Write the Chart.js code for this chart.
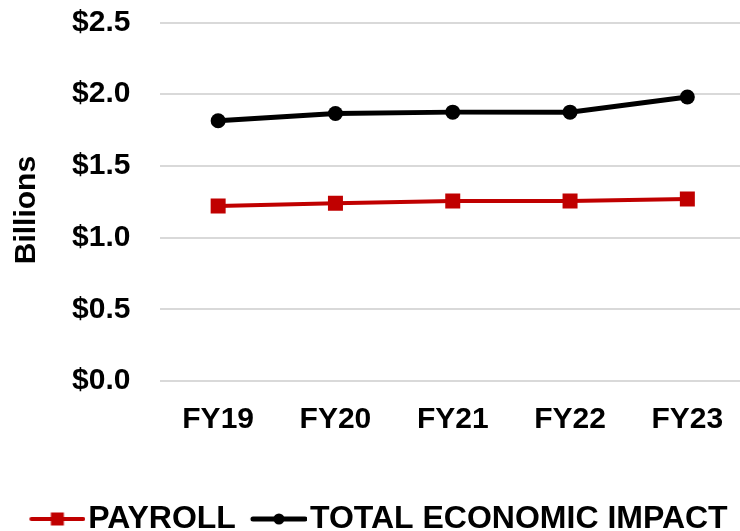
<!DOCTYPE html>
<html>
<head>
<meta charset="utf-8">
<script src="https://cdn.jsdelivr.net/npm/chart.js@4.4.0/dist/chart.umd.min.js"></script>
<style>
html, body { margin: 0; padding: 0; background: #fff; overflow: hidden; }
#wrap { position: absolute; left: 0; top: 0; width: 746px; height: 545px; }
</style>
</head>
<body>
<div id="wrap"><canvas id="mycanvas" width="746" height="545"></canvas></div>
<script>
var lata = ["FY19", "FY20", "FY21", "FY22", "FY23"];
var payroll = [1.22, 1.24, 1.255, 1.255, 1.27];
var totalImpact = [1.815, 1.865, 1.875, 1.875, 1.98];
var osY = [0, 0.5, 1.0, 1.5, 2.0, 2.5];

var czcionka = "'Liberation Sans', Arial, sans-serif";

// ikonka legendy: linia + znacznik
function ikonka(kolor, grubosc, ksztalt, rozmiar)
{
	var c = document.createElement("canvas");
	c.width = 74;
	c.height = 22;
	var g = c.getContext("2d");
	g.strokeStyle = kolor;
	g.fillStyle = kolor;
	g.lineWidth = grubosc;
	g.lineCap = "round";
	g.beginPath();
	g.moveTo(20, 11);
	g.lineTo(72, 11);
	g.stroke();
	var sx = 46;
	if (ksztalt == "rect") {
		g.fillRect(sx - rozmiar / 2, 11 - rozmiar / 2, rozmiar, rozmiar);
	} else {
		g.beginPath();
		g.arc(sx, 11, rozmiar / 2, 0, Math.PI * 2);
		g.fill();
	}
	return c;
}

var ikony = [ikonka("#c00000", 4, "rect", 13), ikonka("#000000", 5, "circle", 11)];

var chartdata = {
	labels: lata,
	datasets: [
		{
			label: "PAYROLL",
			borderColor: "#c00000",
			backgroundColor: "#c00000",
			borderWidth: 4,
			fill: false,
			pointStyle: "rect",
			pointRadius: 10.6,
			pointBorderWidth: 0,
			pointBackgroundColor: "#c00000",
			data: payroll
		},
		{
			label: "TOTAL ECONOMIC IMPACT",
			borderColor: "#000000",
			backgroundColor: "#000000",
			borderWidth: 5,
			fill: false,
			pointStyle: "circle",
			pointRadius: 7.5,
			pointBorderWidth: 0,
			pointBackgroundColor: "#000000",
			data: totalImpact
		}
	]
};

var ctx = document.getElementById("mycanvas");

var wykres = new Chart(ctx, {
	type: "line",
	data: chartdata,
	options: {
		responsive: false,
		animation: false,
		layout: { autoPadding: false, padding: { top: 22.5, right: 0, bottom: 0, left: 6 } },
		plugins: {
			tooltip: { enabled: false },
			legend: {
				position: "bottom",
				labels: {
					usePointStyle: true,
					pointStyleWidth: 48,
					padding: 10,
					color: "#000",
					font: { family: czcionka, size: 32, weight: "bold" },
					generateLabels: function(chart) {
						var items = Chart.defaults.plugins.legend.labels.generateLabels(chart);
						items.forEach(function(it, i) { it.pointStyle = ikony[i]; });
						return items;
					}
				}
			}
		},
		scales: {
			x: {
				offset: true,
				grid: { display: false, drawTicks: false },
				border: { display: false },
				ticks: {
					color: "#000",
					padding: 21,
					font: { family: czcionka, size: 30, weight: "bold" }
				},
				afterFit: function(s) { s.height = 112; s.paddingLeft = 0; s.paddingRight = 0; }
			},
			y: {
				min: 0,
				max: 2.5,
				afterBuildTicks: function(s) { s.ticks = osY.map(function(v) { return { value: v }; }); },
				grid: { color: "#d9d9d9", lineWidth: 2, drawTicks: false },
				border: { display: false },
				ticks: {
					color: "#000",
					padding: 29,
					font: { family: czcionka, size: 30, weight: "bold" },
					callback: function(v) { return "$" + Number(v).toFixed(1); }
				},
				title: {
					display: true,
					text: "Billions  ",
					color: "#000",
					padding: { top: 3, bottom: 0 },
					font: { family: czcionka, size: 30, weight: "bold" }
				},
				afterFit: function(s) { s.width = 153.5; s.paddingTop = 0; s.paddingBottom = 0; }
			}
		}
	}
});
</script>
</body>
</html>
